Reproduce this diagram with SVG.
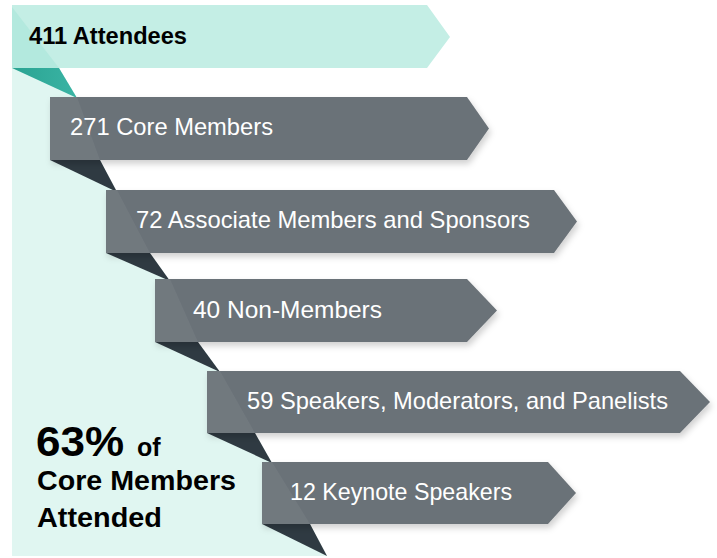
<svg xmlns="http://www.w3.org/2000/svg" width="717" height="558" viewBox="0 0 717 558">
  <style>
    .box { fill: #6b7278; filter: url(#shadow); }
    .shade { fill: #ffffff; fill-opacity: 0.05; }
    .fold { fill: #2f3a42; }
    .lbl { font-family: "Liberation Sans", Arial, sans-serif; font-size: 24px; fill: #ffffff; }
    .blk { font-family: "Liberation Sans", Arial, sans-serif; font-weight: bold; fill: #000000; }
  </style>
  <defs>
    <filter id="shadow" x="-5%" y="-20%" width="115%" height="160%">
      <feDropShadow dx="2" dy="4" stdDeviation="3" flood-color="#000000" flood-opacity="0.18"/>
    </filter>
    <linearGradient id="teal" x1="0" y1="0" x2="1" y2="0">
      <stop offset="0" stop-color="#2aa392"/>
      <stop offset="1" stop-color="#3ab4a4"/>
    </linearGradient>
  </defs>

  <!-- background mint region -->
  <polygon id="background" fill="#e0f6f1" points="12,68 59,68 77,98 100,160 117,192 150,253 170,281 198,342 220,372 255,433 272,463 310,524 327,556 12,556"/>

  <!-- header banner -->
  <g id="attendees">
    <polygon fill="#c4eee5" points="12,5 427,5 450,37 427,68 12,68"/>
    <polygon fill="#b3e9de" points="12,7 59,68 12,68"/>
    <polygon fill="url(#teal)" points="12,68 59,68 77,98"/>
    <text class="blk" x="29" y="44" font-size="23" textLength="158" lengthAdjust="spacingAndGlyphs">411 Attendees</text>
  </g>

  <!-- fold triangles between the ribbons -->
  <g id="connectors">
    <polygon class="fold" points="50,160 100,160 117,192"/>
    <polygon class="fold" points="106,253 150,253 170,281"/>
    <polygon class="fold" points="155,342 198,342 220,372"/>
    <polygon class="fold" points="207,433 255,433 272,463"/>
    <polygon class="fold" points="262,524 310,524 327,556"/>
  </g>

  <g id="core-members">
    <polygon class="box" points="50,97 467,97 489,128.5 467,160 50,160"/>
    <polygon class="shade" points="50,97 77,97 100,160 50,160"/>
    <text class="lbl" x="70" y="135" textLength="203" lengthAdjust="spacingAndGlyphs">271 Core Members</text>
  </g>

  <g id="associate-members">
    <polygon class="box" points="106,190 554,190 577,221.5 554,253 106,253"/>
    <polygon class="shade" points="106,190 117,190 150,253 106,253"/>
    <text class="lbl" x="136" y="228" textLength="394" lengthAdjust="spacingAndGlyphs">72 Associate Members and Sponsors</text>
  </g>

  <g id="non-members">
    <polygon class="box" points="155,279 467,279 497,310.5 467,342 155,342"/>
    <polygon class="shade" points="155,279 170,279 198,342 155,342"/>
    <text class="lbl" x="193" y="318" textLength="189" lengthAdjust="spacingAndGlyphs">40 Non-Members</text>
  </g>

  <g id="speakers">
    <polygon class="box" points="207,371 680,371 710,402 680,433 207,433"/>
    <polygon class="shade" points="207,371 220,371 255,433 207,433"/>
    <text class="lbl" x="247" y="409" textLength="421" lengthAdjust="spacingAndGlyphs">59 Speakers, Moderators, and Panelists</text>
  </g>

  <g id="keynote-speakers">
    <polygon class="box" points="262,462 548,462 576,493 548,524 262,524"/>
    <polygon class="shade" points="262,462 272,462 310,524 262,524"/>
    <text class="lbl" x="290" y="500" textLength="222" lengthAdjust="spacingAndGlyphs">12 Keynote Speakers</text>
  </g>

  <g id="summary">
    <text class="blk" x="36" y="456" font-size="42" textLength="88" lengthAdjust="spacingAndGlyphs">63%</text>
    <text class="blk" x="137" y="456" font-size="25">of</text>
    <text class="blk" x="37" y="490" font-size="27" textLength="199" lengthAdjust="spacingAndGlyphs">Core Members</text>
    <text class="blk" x="37" y="527" font-size="27" textLength="125" lengthAdjust="spacingAndGlyphs">Attended</text>
  </g>
</svg>
